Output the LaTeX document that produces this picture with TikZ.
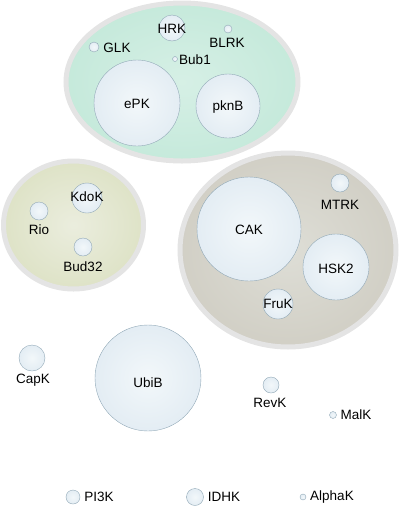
\documentclass[tikz,border=0pt]{standalone}
\usepackage{fontspec}
\setmainfont{Liberation Sans}
\usepackage{tikz}
\usetikzlibrary{positioning}
\definecolor{rim}{RGB}{228,228,228}
\definecolor{kinline}{RGB}{145,168,182}
\pgfdeclareradialshading{kinball}{\pgfpoint{0bp}{0bp}}{rgb(0bp)=(0.95,0.97,0.98); rgb(30bp)=(0.88,0.92,0.95); rgb(50bp)=(0.78,0.85,0.89)}
\pgfdeclareradialshading{mintgroup}{\pgfpoint{0bp}{0bp}}{rgb(0bp)=(0.84,0.94,0.90); rgb(30bp)=(0.76,0.91,0.85); rgb(50bp)=(0.70,0.89,0.80)}
\pgfdeclareradialshading{olivegroup}{\pgfpoint{0bp}{0bp}}{rgb(0bp)=(0.92,0.93,0.87); rgb(30bp)=(0.86,0.88,0.76); rgb(50bp)=(0.81,0.84,0.66)}
\pgfdeclareradialshading{taupegroup}{\pgfpoint{0bp}{0bp}}{rgb(0bp)=(0.87,0.87,0.84); rgb(30bp)=(0.81,0.80,0.76); rgb(50bp)=(0.76,0.75,0.69)}

\begin{document}
\begin{tikzpicture}[x=1pt,y=-1pt,
	group/.style={line width=5pt,draw=rim},
	kin/.style={shading=kinball,draw=kinline,line width=0.4pt},
	lab/.style={font=\fontsize{13.5}{15}\selectfont,inner sep=0pt}]
		\useasboundingbox (0,0) rectangle (402,507);
		% groups
		\shade[shading=mintgroup] (182,82) ellipse (116 and 79);
		\draw[group] (182,82) ellipse (116 and 79);
		\shade[shading=olivegroup] (73.5,225) ellipse (70 and 64);
		\draw[group] (73.5,225) ellipse (70 and 64);
		\shade[shading=taupegroup] (288,250) ellipse (108 and 97);
		\draw[group] (288,250) ellipse (108 and 97);
		% kinases in the first group
		\shade[kin] (172,28) circle (13);
		\node[lab] (hrk) at (172,29) {HRK};
		\shade[kin] (228,29) circle (4);
		\node[lab] (blrk) at (227,43) {BLRK};
		\shade[kin] (94,47) circle (5);
		\node[lab] (glk) at (117,48) {GLK};
		\shade[kin] (175,59) circle (2.5);
		\node[lab] (bub) at (195,60) {Bub1};
		\shade[kin] (137,103) circle (43);
		\node[lab] (epk) at (137,104) {ePK};
		\shade[kin] (228,106) circle (32);
		\node[lab] (pknb) at (228,107) {pknB};
		% second group
		\shade[kin] (87,198) circle (15);
		\node[lab] (kdok) at (87,197) {KdoK};
		\shade[kin] (39,211) circle (9);
		\node[lab] (rio) at (39,230) {Rio};
		\shade[kin] (83,247) circle (9);
		\node[lab] (bud) at (83,267) {Bud32};
		% third group
		\shade[kin] (249,229) circle (52);
		\node[lab] (cak) at (249,230) {CAK};
		\shade[kin] (340,183) circle (9);
		\node[lab] (mtrk) at (340,205) {MTRK};
		\shade[kin] (336,267) circle (33);
		\node[lab] (hsk) at (336,269) {HSK2};
		\shade[kin] (278,304) circle (15);
		\node[lab] (fruk) at (278,304) {FruK};
		% ungrouped
		\shade[kin] (32,358) circle (13);
		\node[lab] (capk) at (33,380) {CapK};
		\shade[kin] (148,378) circle (53);
		\node[lab] (ubib) at (148,383) {UbiB};
		\shade[kin] (271,385) circle (8);
		\node[lab] (revk) at (270,403) {RevK};
		\shade[kin] (333,415) circle (3.5);
		\node[lab] (malk) at (356,415) {MalK};
		\shade[kin] (73,497) circle (7);
		\node[lab] (pik) at (99,497) {PI3K};
		\shade[kin] (195,497) circle (8.5);
		\node[lab] (idhk) at (224,497) {IDHK};
		\shade[kin] (303,497) circle (3);
		\node[lab] (alphak) at (332,497) {AlphaK};
	\end{tikzpicture}
\end{document}
